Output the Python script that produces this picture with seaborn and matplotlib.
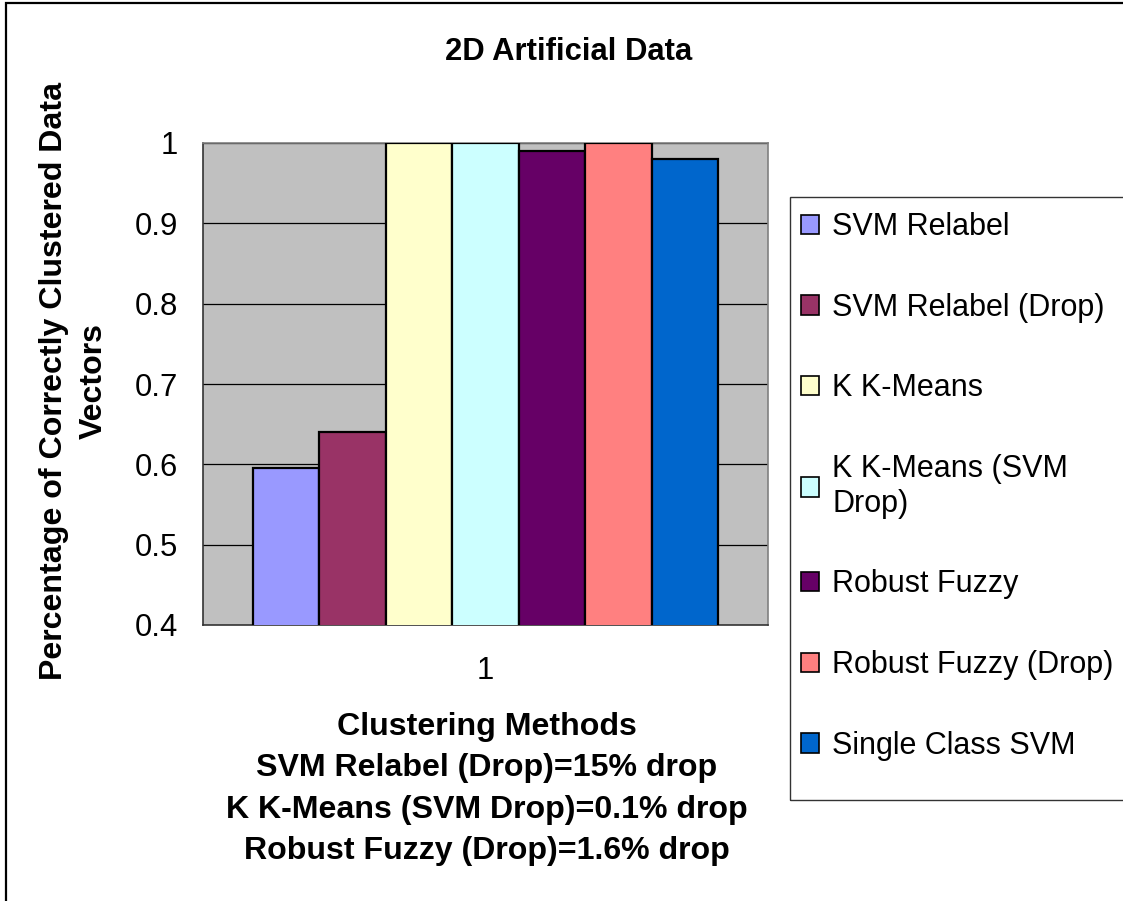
import matplotlib
matplotlib.use("Agg")
import matplotlib.pyplot as plt
from matplotlib.patches import Patch, Rectangle
import seaborn as sns
import pandas as pd

methods = ["SVM Relabel", "SVM Relabel (Drop)", "K K-Means", "K K-Means (SVM Drop)",
           "Robust Fuzzy", "Robust Fuzzy (Drop)", "Single Class SVM"]
legend_labels = ["SVM Relabel", "SVM Relabel (Drop)", "K K-Means", "K K-Means (SVM\nDrop)",
                 "Robust Fuzzy", "Robust Fuzzy (Drop)", "Single Class SVM"]
values = [0.595, 0.64, 1.0, 1.0, 0.99, 1.0, 0.98]
colors = ["#9999FF", "#993366", "#FFFFCC", "#CCFFFF", "#660066", "#FF8080", "#0066CC"]
category = ["1"] * len(methods)
yticks = [0.4, 0.5, 0.6, 0.7, 0.8, 0.9, 1.0]
ytick_labels = ["0.4", "0.5", "0.6", "0.7", "0.8", "0.9", "1"]

sns.set_theme(style="white")
plt.rcParams["font.family"] = ["Liberation Sans", "DejaVu Sans"]
plt.rcParams["text.color"] = "black"
plt.rcParams["xtick.color"] = "black"
plt.rcParams["ytick.color"] = "black"

W, H = 1123, 901
fig = plt.figure(figsize=(W / 100, H / 100), dpi=100)
ax = fig.add_axes([203 / W, 1 - 625 / H, 565 / W, 482 / H])
ax.set_facecolor("#C0C0C0")

df = pd.DataFrame({"cat": category, "method": methods, "value": values})
sns.barplot(data=df, x="cat", y="value", hue="method", hue_order=methods,
            palette=dict(zip(methods, colors)), saturation=1, width=0.823, gap=0,
            edgecolor="black", linewidth=1.6, legend=False, ax=ax, zorder=3)

ax.set_ylim(0.4, 1.0)
ax.set_xlim(-0.5, 0.5)
ax.set_yticks(yticks)
ax.set_yticklabels(ytick_labels, fontsize=22.3, color="black")
ax.set_xticks([0])
ax.set_xticklabels(["1"], fontsize=22.3, color="black")
ax.tick_params(axis="x", length=0, pad=22)
ax.tick_params(axis="y", length=7, width=1, color="#333333", direction="out", pad=11)
ax.set_xticks([-0.5, 0.5], minor=True)
ax.tick_params(axis="x", which="minor", length=6, width=1, color="#333333", direction="out")
ax.set_xlabel("")
ax.set_ylabel("")
for y in yticks[1:]:
    ax.axhline(y, color="#000000", linewidth=0.9, zorder=1)
for side in ["top", "right"]:
    ax.spines[side].set_visible(True)
    ax.spines[side].set_color("#808080")
    ax.spines[side].set_linewidth(1.2)
for side in ["left", "bottom"]:
    ax.spines[side].set_visible(True)
    ax.spines[side].set_color("#333333")
    ax.spines[side].set_linewidth(1.2)

fig.text(569 / W, 1 - 52 / H, "2D Artificial Data", fontsize=22.3, fontweight="bold",
         ha="center", va="center", color="black")
fig.text(74 / W, 1 - 381 / H, "Percentage of Correctly Clustered Data\nVectors",
         fontsize=23.1, fontweight="bold", rotation=90, ha="center", va="center",
         multialignment="center", linespacing=1.42, color="black")
fig.text(487 / W, 1 - 789 / H,
         "Clustering Methods\nSVM Relabel (Drop)=15% drop\nK K-Means (SVM Drop)=0.1% drop\nRobust Fuzzy (Drop)=1.6% drop",
         fontsize=23.1, fontweight="bold", ha="center", va="center",
         multialignment="center", linespacing=1.48, color="black")

# legend frame (Excel-style box extending past the right edge)
frame = Rectangle((790 / W, 1 - 800 / H), 0.5, (800 - 197) / H, transform=fig.transFigure,
                  fill=False, edgecolor="#333333", linewidth=1.0, clip_on=False)
fig.patches.append(frame)

handles = [Patch(facecolor=c, edgecolor="black", linewidth=1.2) for c in colors]
leg = fig.legend(handles, legend_labels, loc="upper left",
                 bbox_to_anchor=(801 / W, 1 - 212 / H), bbox_transform=fig.transFigure,
                 fontsize=22.0, frameon=False,
                 handlelength=0.6, handleheight=0.6, handletextpad=0.42,
                 labelspacing=1.66, borderpad=0, borderaxespad=0)
for t in leg.get_texts():
    t.set_color("black")

border = Rectangle((6 / W, -0.1), 1.2, 1.1 - 3 / H, transform=fig.transFigure,
                   fill=False, edgecolor="black", linewidth=1.6, clip_on=False)
fig.patches.append(border)

fig.savefig("out.png", dpi=100, facecolor="white")
